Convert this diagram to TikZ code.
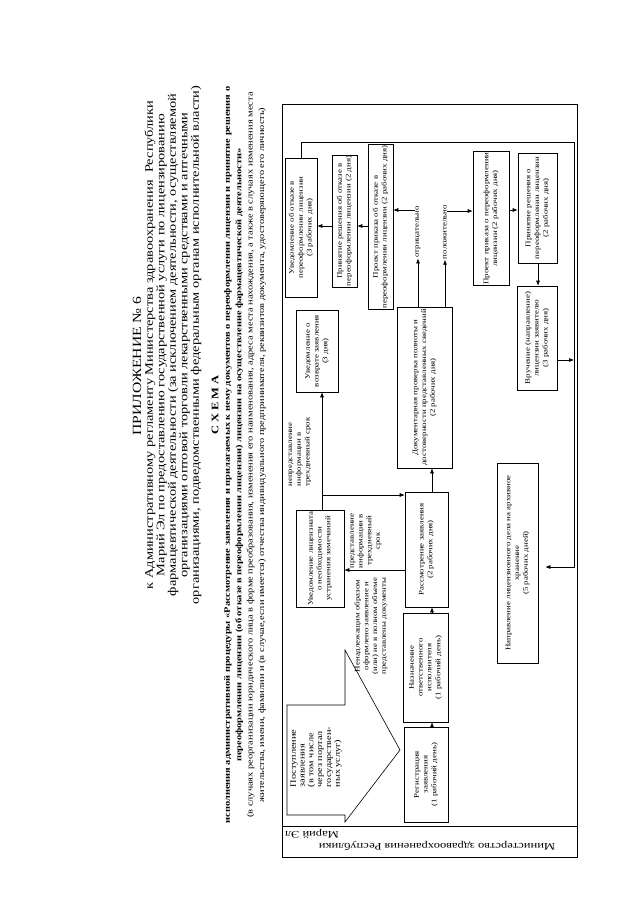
\documentclass[tikz,border=0pt]{standalone}
\usepackage{fontspec}
\setmainfont[FakeStretch=1.25]{Liberation Serif}
\usetikzlibrary{arrows.meta,calc}
\begin{document}
\begin{tikzpicture}[x=1pt,y=-1pt,
  box/.style={draw, line width=0.6pt, rotate=90, align=center, inner sep=1pt, font=\fontsize{7.1}{8.8}\selectfont},
  lbl/.style={rotate=90, align=center, inner sep=0.5pt, font=\fontsize{7.1}{8.7}\selectfont},
  arr/.style={-{Latex[length=5pt,width=4pt]}, line width=0.6pt},
  ln/.style={line width=0.6pt}]
\useasboundingbox (0,0) rectangle (640,905);
\fill[white] (0,0) rectangle (640,905);
% header
\node[rotate=90, font=\fontsize{12.5}{13}\selectfont] (t0) at (137,366) {ПРИЛОЖЕНИЕ № 6};
\node[rotate=90, align=center, font=\fontsize{11.5}{11.5}\selectfont] (t1) at (173,345)
 {к Административному регламенту Министерства здравоохранения \ Республики\\
  Марий Эл по предоставлению государственной услуги по лицензированию\\
  фармацевтической деятельности (за исключением деятельности, осуществляемой\\
  организациями оптовой торговли лекарственными средствами и аптечными\\
  организациями, подведомственными федеральным органам исполнительной власти)};
\node[rotate=90, font=\bfseries\fontsize{10}{11}\selectfont] (t2) at (215,405) {С Х Е М А};
\node[rotate=90, align=center, font=\fontsize{8.3}{11.4}\selectfont] (t3) at (245,455)
 {\bfseries исполнения административной процедуры «Рассмотрение заявления и прилагаемых к нему документов о переоформлении лицензии и принятие решения о\\
  \bfseries переоформлении лицензии (об отказе в переоформлении лицензии) лицензии на осуществление фармацевтической деятельности»\\
  (в случаях реорганизации юридического лица в форме преобразования, изменения его наименования, адреса места нахождения, а также в случаях изменения места\\
  жительства, имени, фамилии и (в случае,если имеется) отчества индивидуального предпринимателя, реквизитов документа, удостоверяющего его личность)};
% frame
\draw[ln] (282,104) rectangle (577,857);
\draw[ln] (282,826) -- (577,826);
\node[rotate=180, font=\fontsize{10}{11}\selectfont, inner sep=0pt] (m1) at (437,846) {Министерство здравоохранения Республики};
\node[rotate=180, font=\fontsize{10}{11}\selectfont, inner sep=0pt] (m2) at (312,834) {Марий Эл};
% boxes
\node[box, minimum width=139, minimum height=32] (b1) at (301,227.5) {Уведомление об отказе в\\ переоформлении лицензии\\ (3 рабочих дня)};
\node[box, minimum width=118, minimum height=25] (b2) at (344.5,221) {Принятие решения об отказе в\\ переоформлении лицензии (2 дня)};
\node[box, minimum width=160, minimum height=25] (b3) at (380.5,227) {Проект приказа об отказе в\\ переоформлении лицензии  (2 рабочих дня)};
\node[box, minimum width=82, minimum height=42] (b4) at (317,351) {Уведомление о\\ возврате заявления\\ (3 дня)};
\node[box, minimum width=97, minimum height=48] (b5) at (320,558.5) {Уведомление лицензиата\\ о необходимости\\ устранения замечаний};
\node[box, minimum width=161, minimum height=55] (b6) at (424.5,387.5) {Документарная проверка полноты и\\ достоверности представленных сведений\\ (2 рабочих дня)};
\node[box, minimum width=115, minimum height=43] (b7) at (426.5,549.5) {Рассмотрение заявления\\ (2 рабочих дня)};
\node[box, minimum width=109, minimum height=45] (b8) at (425.5,667.5) {Назначение\\ ответственного\\ исполнителя\\ (1 рабочий день)};
\node[box, minimum width=95, minimum height=44] (b9) at (426,774.5) {Регистрация\\ заявления\\ (1 рабочий день)};
\node[box, minimum width=131, minimum height=36] (b10) at (491,218.5) {Проект приказа о переоформлении\\ лицензии (2 рабочих дня)};
\node[box, minimum width=110, minimum height=39] (b11) at (537.5,208) {Принятие решения о\\ переоформлении лицензии\\ (2 рабочих дня)};
\node[box, minimum width=104, minimum height=40] (b12) at (537,338) {Вручение (направление)\\ лицензии заявителю\\ (3 рабочих дня)};
\node[box, minimum width=200, minimum height=41] (b13) at (517.5,563) {Направление лицензионного дела на архивное\\ хранение\\ (5 рабочих дней)};
% labels
\node[lbl, align=left] (np) at (300,452) {непредставление\\ информации в\\ трехдневный срок};
\node[lbl] (pr) at (366,541) {представление\\ информации в\\ трехдневный\\ срок};
\node[lbl] (nn) at (371,626) {Ненадлежащим образом\\ оформлено заявление и\\ (или) не в полном объеме\\ представлены документы};
\node[lbl] (neg) at (418,232) {отрицательно};
\node[lbl] (pos) at (445,232) {положительно};
% big arrow
\draw[ln] (287,815) -- (287,705) -- (345,705) -- (345,650) -- (400,750) -- (345,822) -- (345,815) -- cycle;
\node[lbl, align=left, font=\fontsize{8.2}{8.8}\selectfont] (in) at (316,757) {Поступление\\ заявления\\ (в том числе\\ через портал\\ государствен-\\ ных услуг)};
% connectors
\coordinate (r1) at (574,360);
\coordinate (j1) at (322,495);
\draw[arr, shorten >=7pt] (b1.east) |- (574,142) |- (b13.south |- 0,567);
\draw[arr] (b3.north |- 0,226) -- (b2.south |- 0,226);
\draw[arr] (b2.north |- 0,226) -- (b1.south |- 0,226);
\draw[arr] (b6.east -| neg) -- (neg.west);
\draw[arr] (b6.east -| pos) -- (pos.west);
\draw[arr] (neg.north |- 0,210) -- (b3.south |- 0,210);
\draw[arr] (pos.south |- 0,211) -- (b10.north |- 0,211);
\draw[arr] (b10.south |- 0,210) -- (b11.north |- 0,210);
\draw[arr] (b11.west -| 538,0) -- (b12.east -| 538,0);
\draw[arr] (b12.south |- r1) -- (r1);
\draw[arr] (b7.east -| 432,0) -- (b6.west -| 432,0);
\draw[arr] (b8.east -| 432,0) -- (b7.west -| 432,0);
\draw[arr] (b9.east -| 432,0) -- (b8.west -| 432,0);
\draw[arr] (b7.north |- 0,570) -- (b5.south |- 0,570);
\draw[arr] (b5.east -| j1) -- (b4.west -| j1);
\draw[arr] (j1) -- (b7.north |- j1);
\end{tikzpicture}
\end{document}
